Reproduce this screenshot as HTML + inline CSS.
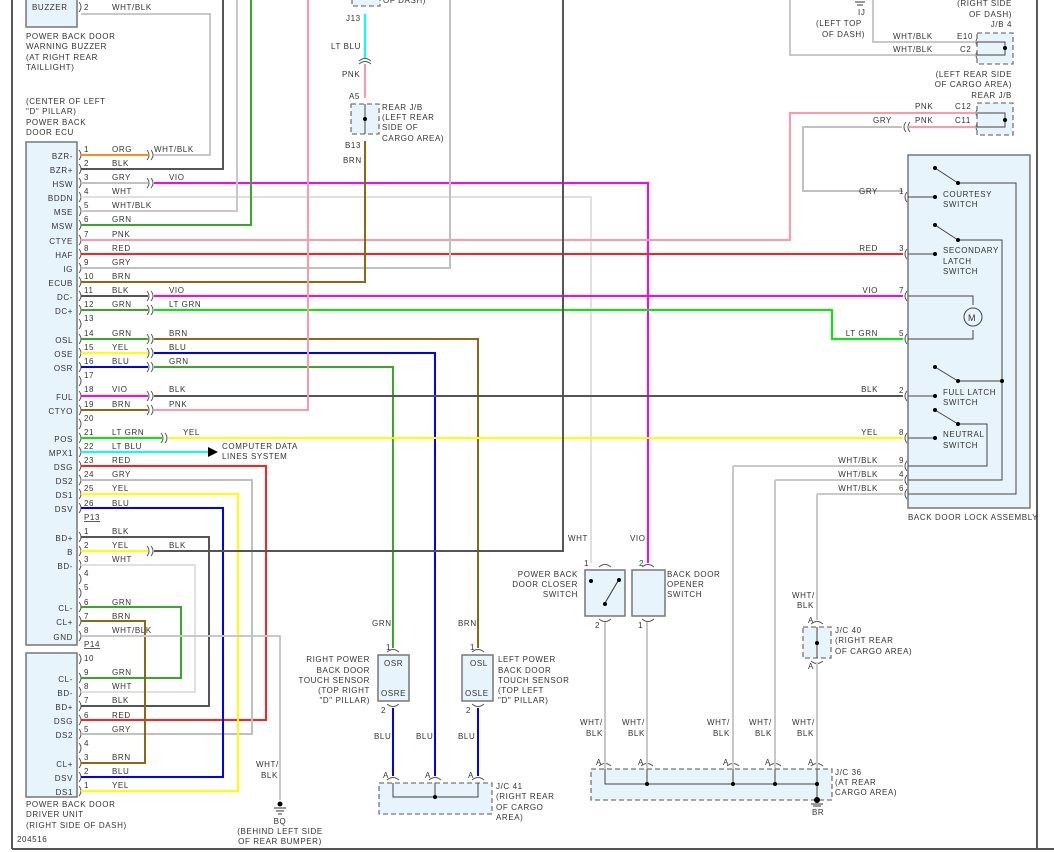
<!DOCTYPE html>
<html><head><meta charset="utf-8"><style>
html,body{margin:0;padding:0;background:#fff;width:1054px;height:852px;overflow:hidden}
svg{display:block}
text{font-family:"Liberation Sans",sans-serif;font-size:8px;fill:#333;letter-spacing:0.6px}
.w{fill:none;stroke-width:2}
.box{fill:#e8f4fb;stroke:#777;stroke-width:1.5}
.dbox{fill:#e8f4fb;stroke:#777;stroke-width:1.3;stroke-dasharray:5,3}
.c{fill:none;stroke:#555;stroke-width:1}
</style></head><body>
<svg width="1054" height="852" viewBox="0 0 1054 852">
<line x1="12" y1="0" x2="12" y2="849" stroke="#222" stroke-width="1.5"/>
<line x1="1037" y1="0" x2="1037" y2="849" stroke="#222" stroke-width="1.5"/>
<line x1="12" y1="849" x2="1054" y2="849" stroke="#555" stroke-width="2"/>

<rect class="box" x="26" y="-3" width="51" height="30"/>
<text x="32" y="10">BUZZER</text>
<text x="84" y="10">2</text><text x="112" y="10">WHT/BLK</text>
<text x="26" y="39">POWER BACK DOOR</text>
<text x="26" y="49">WARNING BUZZER</text>
<text x="26" y="60">(AT RIGHT REAR</text>
<text x="26" y="70">TAILLIGHT)</text>
<text x="26" y="104">(CENTER OF LEFT</text>
<text x="26" y="114">"D" PILLAR)</text>
<text x="26" y="125">POWER BACK</text>
<text x="26" y="135">DOOR ECU</text>

<rect class="box" x="26" y="142" width="51" height="503"/>
<rect class="box" x="26" y="653" width="51" height="144"/>

<g text-anchor="end">
<text x="73" y="159">BZR-</text><text x="73" y="173">BZR+</text><text x="73" y="187">HSW</text><text x="73" y="201">BDDN</text>
<text x="73" y="215">MSE</text><text x="73" y="229">MSW</text><text x="73" y="244">CTYE</text><text x="73" y="258">HAF</text>
<text x="73" y="272">IG</text><text x="73" y="286">ECUB</text><text x="73" y="300">DC-</text><text x="73" y="314">DC+</text>
<text x="73" y="343">OSL</text><text x="73" y="357">OSE</text><text x="73" y="371">OSR</text>
<text x="73" y="400">FUL</text><text x="73" y="414">CTYO</text>
<text x="73" y="442">POS</text><text x="73" y="456">MPX1</text><text x="73" y="470">DSG</text><text x="73" y="484">DS2</text>
<text x="73" y="498">DS1</text><text x="73" y="512">DSV</text>
<text x="73" y="541">BD+</text><text x="73" y="555">B</text><text x="73" y="569">BD-</text>
<text x="73" y="611">CL-</text><text x="73" y="625">CL+</text><text x="73" y="640">GND</text>
<text x="73" y="682">CL-</text><text x="73" y="696">BD-</text><text x="73" y="710">BD+</text><text x="73" y="724">DSG</text>
<text x="73" y="738">DS2</text><text x="73" y="767">CL+</text><text x="73" y="781">DSV</text><text x="73" y="795">DS1</text>
</g>

<g>
<text x="84" y="152">1</text><text x="112" y="152">ORG</text><text x="154" y="152">WHT/BLK</text>
<text x="84" y="166">2</text><text x="112" y="166">BLK</text>
<text x="84" y="180">3</text><text x="112" y="180">GRY</text><text x="169" y="180">VIO</text>
<text x="84" y="194">4</text><text x="112" y="194">WHT</text>
<text x="84" y="208">5</text><text x="112" y="208">WHT/BLK</text>
<text x="84" y="222">6</text><text x="112" y="222">GRN</text>
<text x="84" y="237">7</text><text x="112" y="237">PNK</text>
<text x="84" y="251">8</text><text x="112" y="251">RED</text>
<text x="84" y="265">9</text><text x="112" y="265">GRY</text>
<text x="84" y="279">10</text><text x="112" y="279">BRN</text>
<text x="84" y="293">11</text><text x="112" y="293">BLK</text><text x="169" y="293">VIO</text>
<text x="84" y="307">12</text><text x="112" y="307">GRN</text><text x="169" y="307">LT GRN</text>
<text x="84" y="321">13</text>
<text x="84" y="336">14</text><text x="112" y="336">GRN</text><text x="169" y="336">BRN</text>
<text x="84" y="350">15</text><text x="112" y="350">YEL</text><text x="169" y="350">BLU</text>
<text x="84" y="364">16</text><text x="112" y="364">BLU</text><text x="169" y="364">GRN</text>
<text x="84" y="378">17</text>
<text x="84" y="392">18</text><text x="112" y="392">VIO</text><text x="169" y="392">BLK</text>
<text x="84" y="407">19</text><text x="112" y="407">BRN</text><text x="169" y="407">PNK</text>
<text x="84" y="421">20</text>
<text x="84" y="435">21</text><text x="112" y="435">LT GRN</text><text x="183" y="435">YEL</text>
<text x="84" y="449">22</text><text x="112" y="449">LT BLU</text>
<text x="84" y="463">23</text><text x="112" y="463">RED</text>
<text x="84" y="477">24</text><text x="112" y="477">GRY</text>
<text x="84" y="491">25</text><text x="112" y="491">YEL</text>
<text x="84" y="506">26</text><text x="112" y="506">BLU</text>
<text x="84" y="520" text-decoration="underline">P13</text>
<text x="84" y="534">1</text><text x="112" y="534">BLK</text>
<text x="84" y="548">2</text><text x="112" y="548">YEL</text><text x="169" y="548">BLK</text>
<text x="84" y="562">3</text><text x="112" y="562">WHT</text>
<text x="84" y="576">4</text>
<text x="84" y="590">5</text>
<text x="84" y="605">6</text><text x="112" y="605">GRN</text>
<text x="84" y="619">7</text><text x="112" y="619">BRN</text>
<text x="84" y="633">8</text><text x="112" y="633">WHT/BLK</text>
<text x="84" y="647" text-decoration="underline">P14</text>
<text x="84" y="661">10</text>
<text x="84" y="675">9</text><text x="112" y="675">GRN</text>
<text x="84" y="689">8</text><text x="112" y="689">WHT</text>
<text x="84" y="703">7</text><text x="112" y="703">BLK</text>
<text x="84" y="718">6</text><text x="112" y="718">RED</text>
<text x="84" y="732">5</text><text x="112" y="732">GRY</text>
<text x="84" y="746">4</text>
<text x="84" y="760">3</text><text x="112" y="760">BRN</text>
<text x="84" y="774">2</text><text x="112" y="774">BLU</text>
<text x="84" y="788">1</text><text x="112" y="788">YEL</text>
</g>

<g class="c">
<path d="M79 150 q4 5 0 10 M79 164 q4 5 0 10 M79 178 q4 5 0 10 M79 192 q4 5 0 10 M79 206 q4 5 0 10 M79 220 q4 5 0 10 M79 235 q4 5 0 10 M79 249 q4 5 0 10 M79 263 q4 5 0 10 M79 277 q4 5 0 10 M79 291 q4 5 0 10 M79 305 q4 5 0 10 M79 319 q4 5 0 10 M79 334 q4 5 0 10 M79 348 q4 5 0 10 M79 362 q4 5 0 10 M79 376 q4 5 0 10 M79 391 q4 5 0 10 M79 405 q4 5 0 10 M79 419 q4 5 0 10 M79 433 q4 5 0 10 M79 447 q4 5 0 10 M79 461 q4 5 0 10 M79 475 q4 5 0 10 M79 489 q4 5 0 10 M79 503 q4 5 0 10 M79 532 q4 5 0 10 M79 546 q4 5 0 10 M79 560 q4 5 0 10 M79 574 q4 5 0 10 M79 588 q4 5 0 10 M79 602 q4 5 0 10 M79 616 q4 5 0 10 M79 631 q4 5 0 10 M79 654 q4 5 0 10 M79 673 q4 5 0 10 M79 687 q4 5 0 10 M79 701 q4 5 0 10 M79 715 q4 5 0 10 M79 729 q4 5 0 10 M79 743 q4 5 0 10 M79 758 q4 5 0 10 M79 772 q4 5 0 10 M79 786 q4 5 0 10 M79 2 q4 5 0 10"/>
<path d="M147 150 q4 5 0 10 M151 150 q4 5 0 10 M147 178 q4 5 0 10 M151 178 q4 5 0 10 M147 291 q4 5 0 10 M151 291 q4 5 0 10 M147 305 q4 5 0 10 M151 305 q4 5 0 10 M147 334 q4 5 0 10 M151 334 q4 5 0 10 M147 348 q4 5 0 10 M151 348 q4 5 0 10 M147 362 q4 5 0 10 M151 362 q4 5 0 10 M147 391 q4 5 0 10 M151 391 q4 5 0 10 M147 405 q4 5 0 10 M151 405 q4 5 0 10 M161 433 q4 5 0 10 M165 433 q4 5 0 10 M147 546 q4 5 0 10 M151 546 q4 5 0 10"/>
<!-- lock assembly pins -->
<path d="M907 192 q-4 5 0 10 M907 249 q-4 5 0 10 M907 291 q-4 5 0 10 M907 334 q-4 5 0 10 M907 391 q-4 5 0 10 M907 433 q-4 5 0 10 M907 461 q-4 5 0 10 M907 475 q-4 5 0 10 M907 489 q-4 5 0 10"/>
<!-- J/B connectors -->
<path d="M978 37 q-4 5 0 10 M978 50 q-4 5 0 10 M978 108 q-4 5 0 10 M978 122 q-4 5 0 10 M906 122 q-4 5 0 10 M910 122 q-4 5 0 10"/>
<!-- sensor / switch pins -->
<path d="M387 652 q6 -5 12 0 M472 652 q6 -5 12 0 M387 704 q6 5 12 0 M472 704 q6 5 12 0 M599 567 q6 -5 12 0 M642 567 q6 -5 12 0 M599 619 q6 5 12 0 M642 619 q6 5 12 0 M811 624 q6 -5 12 0 M811 661 q6 5 12 0"/>
<path d="M387 780 q6 -5 12 0 M429 780 q6 -5 12 0 M472 780 q6 -5 12 0 M599 766 q6 -5 12 0 M641 766 q6 -5 12 0 M727 766 q6 -5 12 0 M769 766 q6 -5 12 0 M811 766 q6 -5 12 0"/>
</g>

<g class="w">
<path stroke="#c8c8c8" d="M81 14 H210 V155 H154"/>
<path stroke="#ff8c1a" d="M81 155 H148"/>
<path stroke="#555" d="M81 169 H223 V0"/>
<path stroke="#c0c0c0" d="M81 183 H148"/>
<path stroke="#ff00ff" d="M154 183 H648 V563"/>
<path stroke="#e0e0e0" d="M81 197 H591 V563"/>
<path stroke="#c8c8c8" d="M81 211 H237 V0"/>
<path stroke="#3aa62a" d="M81 225 H251 V0"/>
<path stroke="#ff99aa" d="M81 240 H790 V113 H975"/>
<path stroke="#ff2020" d="M81 254 H903"/>
<path stroke="#c0c0c0" d="M81 268 H450 V0"/>
<path stroke="#8b6914" d="M81 282 H365 V141"/>
<path stroke="#555" d="M81 296 H148"/>
<path stroke="#ff00ff" d="M154 296 H903"/>
<path stroke="#3aa62a" d="M81 310 H148"/>
<path stroke="#00ee00" d="M154 310 H832 V339 H903"/>
<path stroke="#3aa62a" d="M81 339 H148"/>
<path stroke="#8b6914" d="M154 339 H478 V648"/>
<path stroke="#ffff00" d="M81 353 H148"/>
<path stroke="#0000ff" d="M154 353 H435 V776"/>
<path stroke="#0000ff" d="M81 367 H148"/>
<path stroke="#3aa62a" d="M154 367 H393 V648"/>
<path stroke="#ff00ff" d="M81 396 H148"/>
<path stroke="#555" d="M154 396 H903"/>
<path stroke="#8b6914" d="M81 410 H148"/>
<path stroke="#ff99aa" d="M154 410 H308 V0"/>
<path stroke="#00ee00" d="M81 438 H162"/>
<path stroke="#ffff00" d="M168 438 H903"/>
<path stroke="#00ffff" d="M81 452 H210"/>
<path stroke="#ff2020" d="M81 466 H266 V720 H81"/>
<path stroke="#c0c0c0" d="M81 480 H252 V734 H81"/>
<path stroke="#ffff00" d="M81 494 H238 V791 H81"/>
<path stroke="#0000ff" d="M81 508 H223 V777 H81"/>
<path stroke="#555" d="M81 537 H209 V706 H81"/>
<path stroke="#ffff00" d="M81 551 H148"/>
<path stroke="#555" d="M154 551 H563 V0"/>
<path stroke="#e0e0e0" d="M81 565 H195 V692 H81"/>
<path stroke="#3aa62a" d="M81 607 H181 V678 H81"/>
<path stroke="#8b6914" d="M81 621 H145 V763 H81"/>
<path stroke="#c8c8c8" d="M81 636 H280 V800"/>
<path stroke="#00ffff" d="M365 14 V58"/>
<path stroke="#ff99aa" d="M365 64 V98"/>
<path stroke="#c8c8c8" d="M790 0 V55 H975"/>
<path stroke="#c8c8c8" d="M873 0 V42 H975"/>
<path stroke="#c0c0c0" d="M903 191 H803 V127 H902"/>
<path stroke="#ff99aa" d="M908 127 H975"/>
<path stroke="#0000ff" d="M393 708 V776 M478 708 V776"/>
<path stroke="#c8c8c8" d="M605 622 V776 M647 622 V776 M733 466 H903 M733 466 V776 M775 480 H903 M775 480 V776 M817 494 H903 M817 494 V620 M817 662 V776"/>
</g>
<polygon points="208,447 218,452 208,457" fill="#000"/>
<text x="222" y="449">COMPUTER DATA</text>
<text x="222" y="459">LINES SYSTEM</text>

<rect class="dbox" x="352" y="-8" width="28" height="14"/>
<text x="383" y="3">OF DASH)</text>
<text x="346" y="21">J13</text>
<text x="331" y="49">LT BLU</text>
<path class="c" d="M359 61 q6 -5 12 0 M359 64 q6 -5 12 0"/>
<text x="342" y="77">PNK</text>
<text x="349" y="99">A5</text>
<rect class="dbox" x="351" y="104" width="28" height="30"/>
<line x1="365" y1="104" x2="365" y2="134" stroke="#444"/>
<circle cx="365" cy="119" r="2" fill="#000"/>
<text x="382" y="110">REAR J/B</text>
<text x="382" y="120">(LEFT REAR</text>
<text x="382" y="130">SIDE OF</text>
<text x="382" y="141">CARGO AREA)</text>
<text x="345" y="148">B13</text>
<text x="343" y="163">BRN</text>

<text x="858" y="15">IJ</text>
<line x1="855" y1="2" x2="865" y2="2" stroke="#333"/><line x1="857" y1="5" x2="863" y2="5" stroke="#333"/>
<text x="816" y="26">(LEFT TOP</text>
<text x="822" y="37">OF DASH)</text>
<g text-anchor="end">
<text x="1012" y="6">(RIGHT SIDE</text>
<text x="1012" y="17">OF DASH)</text>
<text x="1012" y="27">J/B 4</text>
<text x="1012" y="77">(LEFT REAR SIDE</text>
<text x="1012" y="87">OF CARGO AREA)</text>
<text x="1012" y="98">REAR J/B</text>
</g>
<text x="893" y="39">WHT/BLK</text><text x="957" y="39">E10</text>
<text x="893" y="52">WHT/BLK</text><text x="960" y="52">C2</text>
<rect class="dbox" x="977" y="33" width="36" height="31"/>
<path stroke="#444" fill="none" d="M977 42 H1005 V55 H977"/><circle cx="1005" cy="48" r="2" fill="#000"/>
<text x="915" y="109">PNK</text><text x="955" y="109">C12</text>
<text x="873" y="123">GRY</text><text x="915" y="123">PNK</text><text x="955" y="123">C11</text>
<rect class="dbox" x="977" y="103" width="36" height="32"/>
<path stroke="#444" fill="none" d="M977 113 H1005 V127 H977"/><circle cx="1005" cy="120" r="2" fill="#000"/>

<rect class="box" x="908" y="155" width="122" height="353"/>
<g fill="none" stroke="#444" stroke-width="1">
<path d="M908 197 H935 M935 168 L958 183 H1016 V494 H908"/>
<path d="M908 254 H935 M935 225 L958 240 H1002 V480 H908"/>
<path d="M908 296 H973 V305 M973 330 V339 H908"/>
<circle cx="973" cy="317" r="9" fill="#e8f4fb"/>
<path d="M908 396 H935 M935 367 L958 381 H1002 M908 438 H935 M935 410 L958 424 H987 V466 H908"/>
</g>
<g fill="#000"><circle cx="935" cy="168" r="2"/><circle cx="958" cy="183" r="2"/><circle cx="935" cy="197" r="2"/>
<circle cx="935" cy="225" r="2"/><circle cx="958" cy="240" r="2"/><circle cx="935" cy="254" r="2"/>
<circle cx="935" cy="367" r="2"/><circle cx="958" cy="381" r="2"/><circle cx="935" cy="396" r="2"/><circle cx="1002" cy="381" r="2"/>
<circle cx="935" cy="410" r="2"/><circle cx="958" cy="424" r="2"/><circle cx="935" cy="438" r="2"/></g>
<text x="968" y="321" style="font-size:9px">M</text>
<text x="943" y="197">COURTESY</text><text x="943" y="207">SWITCH</text>
<text x="943" y="253">SECONDARY</text><text x="943" y="264">LATCH</text><text x="943" y="274">SWITCH</text>
<text x="943" y="395">FULL LATCH</text><text x="943" y="405">SWITCH</text>
<text x="943" y="437">NEUTRAL</text><text x="943" y="448">SWITCH</text>
<text x="908" y="520">BACK DOOR LOCK ASSEMBLY</text>
<g text-anchor="end">
<text x="878" y="194">GRY</text><text x="878" y="251">RED</text><text x="878" y="293">VIO</text><text x="878" y="336">LT GRN</text>
<text x="878" y="392">BLK</text><text x="878" y="435">YEL</text><text x="878" y="463">WHT/BLK</text><text x="878" y="477">WHT/BLK</text><text x="878" y="491">WHT/BLK</text>
<text x="904" y="194">1</text><text x="904" y="251">3</text><text x="904" y="293">7</text><text x="904" y="336">5</text>
<text x="904" y="393">2</text><text x="904" y="435">8</text><text x="904" y="463">9</text><text x="904" y="477">4</text><text x="904" y="491">6</text>
</g>

<text x="372" y="626">GRN</text><text x="458" y="626">BRN</text>
<text x="386" y="650">1</text><text x="470" y="650">1</text>
<rect class="box" x="378" y="655" width="31" height="46"/>
<rect class="box" x="462" y="655" width="31" height="46"/>
<text x="384" y="666">OSR</text><text x="381" y="696">OSRE</text>
<text x="470" y="666">OSL</text><text x="465" y="696">OSLE</text>
<g text-anchor="end">
<text x="370" y="662">RIGHT POWER</text><text x="370" y="673">BACK DOOR</text><text x="370" y="683">TOUCH SENSOR</text>
<text x="370" y="693">(TOP RIGHT</text><text x="370" y="703">"D" PILLAR)</text>
</g>
<text x="498" y="662">LEFT POWER</text><text x="498" y="673">BACK DOOR</text><text x="498" y="683">TOUCH SENSOR</text>
<text x="498" y="693">(TOP LEFT</text><text x="498" y="703">"D" PILLAR)</text>
<text x="381" y="713">2</text><text x="466" y="713">2</text>
<text x="374" y="739">BLU</text><text x="416" y="739">BLU</text><text x="458" y="739">BLU</text>
<text x="383" y="778">A</text><text x="425" y="778">A</text><text x="468" y="778">A</text>
<rect class="dbox" x="379" y="783" width="113" height="31"/>
<path stroke="#444" fill="none" d="M393 783 V797 H478 V783 M435 783 V797"/><circle cx="435" cy="797" r="2" fill="#000"/>
<text x="496" y="789">J/C 41</text><text x="496" y="799">(RIGHT REAR</text><text x="496" y="810">OF CARGO</text><text x="496" y="820">AREA)</text>

<text x="256" y="767">WHT/</text><text x="261" y="778">BLK</text>
<circle cx="280" cy="804" r="2.5" fill="#000"/>
<path stroke="#333" d="M274 808 H286 M276 811 H284 M278 814 H282"/>
<text x="280" y="824" text-anchor="middle">BQ</text>
<text x="280" y="834" text-anchor="middle">(BEHIND LEFT SIDE</text>
<text x="280" y="844" text-anchor="middle">OF REAR BUMPER)</text>
<text x="26" y="807">POWER BACK DOOR</text>
<text x="26" y="817">DRIVER UNIT</text>
<text x="26" y="828">(RIGHT SIDE OF DASH)</text>
<text x="17" y="842">204516</text>

<text x="568" y="541">WHT</text><text x="630" y="541">VIO</text>
<text x="584" y="566">1</text><text x="639" y="566">2</text>
<rect class="box" x="585" y="570" width="40" height="46"/>
<rect class="box" x="632" y="570" width="33" height="46"/>
<g stroke="#333" fill="none"><path d="M605 603 L618 581"/></g>
<g fill="#000"><circle cx="591" cy="581" r="2"/><circle cx="619" cy="580" r="2"/><circle cx="605" cy="604" r="2"/></g>
<g text-anchor="end"><text x="578" y="577">POWER BACK</text><text x="578" y="587">DOOR CLOSER</text><text x="578" y="597">SWITCH</text></g>
<text x="667" y="577">BACK DOOR</text><text x="667" y="587">OPENER</text><text x="667" y="597">SWITCH</text>
<text x="595" y="628">2</text><text x="638" y="628">1</text>
<text x="792" y="598">WHT/</text><text x="797" y="608">BLK</text>
<text x="808" y="623">A</text>
<rect class="dbox" x="803" y="627" width="28" height="31"/>
<line x1="817" y1="627" x2="817" y2="658" stroke="#444"/><circle cx="817" cy="643" r="2" fill="#000"/>
<text x="808" y="669">A</text>
<text x="835" y="633">J/C 40</text><text x="835" y="643">(RIGHT REAR</text><text x="835" y="654">OF CARGO AREA)</text>
<g><text x="580" y="725">WHT/</text><text x="586" y="736">BLK</text>
<text x="622" y="725">WHT/</text><text x="628" y="736">BLK</text>
<text x="707" y="725">WHT/</text><text x="713" y="736">BLK</text>
<text x="749" y="725">WHT/</text><text x="755" y="736">BLK</text>
<text x="792" y="725">WHT/</text><text x="797" y="736">BLK</text>
<text x="596" y="765">A</text><text x="638" y="765">A</text><text x="723" y="765">A</text><text x="765" y="765">A</text><text x="808" y="765">A</text></g>
<rect class="dbox" x="591" y="769" width="241" height="31"/>
<path stroke="#444" fill="none" d="M605 769 V784 H817 V769 M647 769 V784 M733 769 V784 M775 769 V784 M817 784 V800"/>
<g fill="#000"><circle cx="647" cy="784" r="2"/><circle cx="733" cy="784" r="2"/><circle cx="775" cy="784" r="2"/><circle cx="817" cy="784" r="2"/><circle cx="817" cy="800" r="3"/></g>
<path stroke="#333" d="M811 804 H823 M813 806 H821"/>
<text x="812" y="815">BR</text>
<text x="835" y="775">J/C 36</text><text x="835" y="785">(AT REAR</text><text x="835" y="795">CARGO AREA)</text>
</svg>
</body></html>
